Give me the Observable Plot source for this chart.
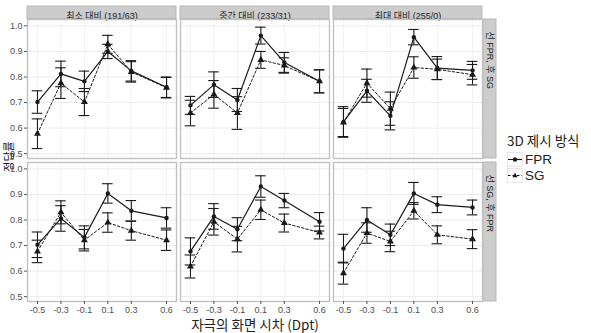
<!DOCTYPE html>
<html>
<head>
<meta charset="utf-8">
<script src="https://cdn.jsdelivr.net/npm/d3@7"></script>
<script src="https://cdn.jsdelivr.net/npm/@observablehq/plot@0.6"></script>
<style>
  body { margin: 0; background: white; }
  #wrap { position: relative; width: 591px; height: 333px; overflow: hidden; background: white; }
  #chart { position: absolute; left: 0; top: 0; }
  .xtitle { position: absolute; left: 0; width: 510px; top: 317px; text-align: center;
            font-family: "Noto Sans CJK KR", sans-serif; font-size: 13.5px; color: #222; line-height: 14px; }
  .ytitle { position: absolute; left: -22px; top: 150px; width: 60px; text-align: center; transform: rotate(-90deg);
            font-family: "Noto Sans CJK KR", sans-serif; font-size: 11px; color: #222; line-height: 13px; }
  .legend { position: absolute; left: 507px; top: 132px; font-family: "Noto Sans CJK KR", sans-serif; color: #222; }
  .legend .ttl { font-size: 13.5px; line-height: 17px; margin-bottom: 2px; }
  .legend .row { display: flex; align-items: center; height: 16px; }
  .legend .row span { display: inline-block; font-family: "Liberation Sans", Arial, sans-serif; font-size: 13.5px; line-height: 15px; margin-left: 2px; }
  .legend svg { display: block; }
</style>
</head>
<body>
<div id="wrap">
  <div id="chart"></div>
  <div class="ytitle">정답률</div>
  <div class="xtitle">자극의 화면 시차 (Dpt)</div>
  <div class="legend" id="legend"></div>
</div>
<script>
// Categories
const contrasts = ["최소 대비 (191/63)", "중간 대비 (233/31)", "최대 대비 (255/0)"];
const orders = ["선 FPR, 후 SG", "선 SG, 후 FPR"];
const methods = ["FPR", "SG"];
const disparities = [-0.5, -0.3, -0.1, 0.1, 0.3, 0.6];
const yTicks = [0.5, 0.6, 0.7, 0.8, 0.9, 1.0];

// Order A: 선 FPR, 후 SG  — rows indexed by contrast, columns by disparity
const fprMean_A = [
  [0.702, 0.812, 0.783, 0.900, 0.824, 0.760],
  [0.689, 0.770, 0.710, 0.962, 0.857, 0.783],
  [0.624, 0.746, 0.648, 0.956, 0.835, 0.826]
];
const fprErr_A = [
  [0.044, 0.050, 0.040, 0.028, 0.040, 0.040],
  [0.035, 0.050, 0.045, 0.033, 0.039, 0.045],
  [0.060, 0.045, 0.055, 0.030, 0.045, 0.035]
];
const sgMean_A = [
  [0.578, 0.776, 0.702, 0.928, 0.820, 0.758],
  [0.659, 0.732, 0.659, 0.867, 0.845, 0.783],
  [0.622, 0.776, 0.676, 0.837, 0.830, 0.809]
];
const sgErr_A = [
  [0.058, 0.060, 0.053, 0.035, 0.040, 0.040],
  [0.050, 0.054, 0.064, 0.033, 0.030, 0.045],
  [0.055, 0.055, 0.065, 0.042, 0.040, 0.040]
];

// Order B: 선 SG, 후 FPR
const fprMean_B = [
  [0.703, 0.806, 0.732, 0.904, 0.836, 0.808],
  [0.677, 0.814, 0.764, 0.931, 0.876, 0.793],
  [0.688, 0.800, 0.742, 0.904, 0.860, 0.849]
];
const fprErr_B = [
  [0.050, 0.050, 0.045, 0.038, 0.040, 0.040],
  [0.053, 0.050, 0.045, 0.042, 0.028, 0.036],
  [0.056, 0.048, 0.042, 0.043, 0.031, 0.029]
];
const sgMean_B = [
  [0.677, 0.830, 0.721, 0.790, 0.758, 0.721],
  [0.618, 0.793, 0.725, 0.840, 0.788, 0.751],
  [0.592, 0.749, 0.716, 0.836, 0.742, 0.725]
];
const sgErr_B = [
  [0.044, 0.045, 0.042, 0.038, 0.037, 0.040],
  [0.045, 0.052, 0.050, 0.038, 0.035, 0.025],
  [0.043, 0.040, 0.040, 0.032, 0.035, 0.037]
];

// Build tidy table
const series = {
  [orders[0]]: { FPR: [fprMean_A, fprErr_A], SG: [sgMean_A, sgErr_A] },
  [orders[1]]: { FPR: [fprMean_B, fprErr_B], SG: [sgMean_B, sgErr_B] }
};
const rows = [];
orders.forEach(o => contrasts.forEach((c, ci) => methods.forEach(m => {
  const [mean, err] = series[o][m];
  disparities.forEach((x, k) => rows.push({ order: o, contrast: c, method: m, x, mean: mean[ci][k], err: err[ci][k] }));
})));
const fprRows = rows.filter(d => d.method === "FPR");
const sgRows = rows.filter(d => d.method === "SG");

// Layout
const W = 591, H = 333;
const mL = 26, mR = 108, mT = 18, mB = 32;
const padX = 0.023, padY = 0.028;
const bandW = (W - mL - mR) / (contrasts.length - padX) * (1 - padX);
const bandH = (H - mT - mB) / (orders.length - padY) * (1 - padY);
const capHalf = 0.045;
const ink = "#1a1a1a";
const fmt = d => d.toFixed(1);

const topStrips = contrasts.map(c => ({ c, o: orders[0] }));
const rightStrips = orders.map(o => ({ c: contrasts[contrasts.length - 1], o }));

const errMarks = data => [
  Plot.ruleX(data, { x: "x", y1: d => d.mean - d.err, y2: d => d.mean + d.err, fx: "contrast", fy: "order", stroke: ink, strokeWidth: 1.1 }),
  Plot.ruleY(data, { y: d => d.mean + d.err, x1: d => d.x - capHalf, x2: d => d.x + capHalf, fx: "contrast", fy: "order", stroke: ink, strokeWidth: 1.1 }),
  Plot.ruleY(data, { y: d => d.mean - d.err, x1: d => d.x - capHalf, x2: d => d.x + capHalf, fx: "contrast", fy: "order", stroke: ink, strokeWidth: 1.1 })
];

const chart = Plot.plot({
  width: W, height: H,
  marginLeft: mL, marginRight: mR, marginTop: mT, marginBottom: mB,
  style: { fontFamily: "'Liberation Sans', 'Noto Sans CJK KR', sans-serif", fontSize: "9px", color: "#4d4d4d", background: "white", overflow: "visible" },
  x: { domain: [-0.585, 0.685], label: null },
  y: { domain: [0.481, 1.025], label: null },
  fx: { domain: contrasts, paddingInner: padX, paddingOuter: 0, axis: null, label: null },
  fy: { domain: orders, paddingInner: padY, paddingOuter: 0, axis: null, label: null },
  marks: [
    Plot.gridY(yTicks, { stroke: "#ececec", strokeOpacity: 1 }),
    Plot.gridX(disparities, { stroke: "#f2f2f2", strokeOpacity: 1 }),
    Plot.rect(topStrips, { fx: "c", fy: "o", fill: "#cccccc", stroke: "#b8b8b8", strokeWidth: 1, insetTop: -13, insetBottom: bandH }),
    Plot.text(topStrips, { fx: "c", fy: "o", text: "c", frameAnchor: "top", dy: -6.5, fontSize: 9, fill: "#222" }),
    Plot.rect(rightStrips, { fx: "c", fy: "o", fill: "#cccccc", stroke: "#b8b8b8", strokeWidth: 1, insetLeft: bandW, insetRight: -14 }),
    Plot.text(rightStrips, { fx: "c", fy: "o", text: "o", frameAnchor: "right", dx: 7, rotate: 90, fontSize: 9, fill: "#222" }),
    Plot.frame({ stroke: "#c2c2c2", strokeWidth: 1.4 }),
    Plot.axisX(disparities, { tickSize: 3, tickPadding: 2, tickFormat: fmt, stroke: "#555", fill: "#4d4d4d", fontSize: 9, label: null }),
    Plot.axisY(yTicks, { tickSize: 3, tickPadding: 2, tickFormat: fmt, stroke: "#555", fill: "#4d4d4d", fontSize: 9, label: null }),
    ...errMarks(sgRows),
    ...errMarks(fprRows),
    Plot.line(sgRows, { x: "x", y: "mean", fx: "contrast", fy: "order", stroke: ink, strokeWidth: 1, strokeDasharray: "2.5,2" }),
    Plot.line(fprRows, { x: "x", y: "mean", fx: "contrast", fy: "order", stroke: ink, strokeWidth: 1.2 }),
    Plot.dot(sgRows, { x: "x", y: "mean", fx: "contrast", fy: "order", symbol: "triangle", r: 2.6, fill: ink, stroke: "none" }),
    Plot.dot(fprRows, { x: "x", y: "mean", fx: "contrast", fy: "order", symbol: "circle", r: 2.2, fill: ink, stroke: "none" })
  ]
});
document.getElementById("chart").appendChild(chart);

// Legend
const legend = document.getElementById("legend");
legend.innerHTML = `<div class="ttl">3D 제시 방식</div>` + methods.map(m => {
  const sym = m === "FPR"
    ? `<circle cx="8" cy="7.5" r="2.2" fill="${ink}"/>`
    : `<path d="M8,4.8 L10.6,9.3 L5.4,9.3 Z" fill="${ink}"/>`;
  const dash = m === "FPR" ? "" : `stroke-dasharray="2.5,2"`;
  return `<div class="row"><svg width="16" height="15"><rect x="0.5" y="0.5" width="15" height="14" fill="white" stroke="#e6e6e6"/>` +
    `<line x1="1" x2="15" y1="7.5" y2="7.5" stroke="${ink}" stroke-width="1.1" ${dash}/>${sym}</svg><span>${m}</span></div>`;
}).join("");
</script>
</body>
</html>
